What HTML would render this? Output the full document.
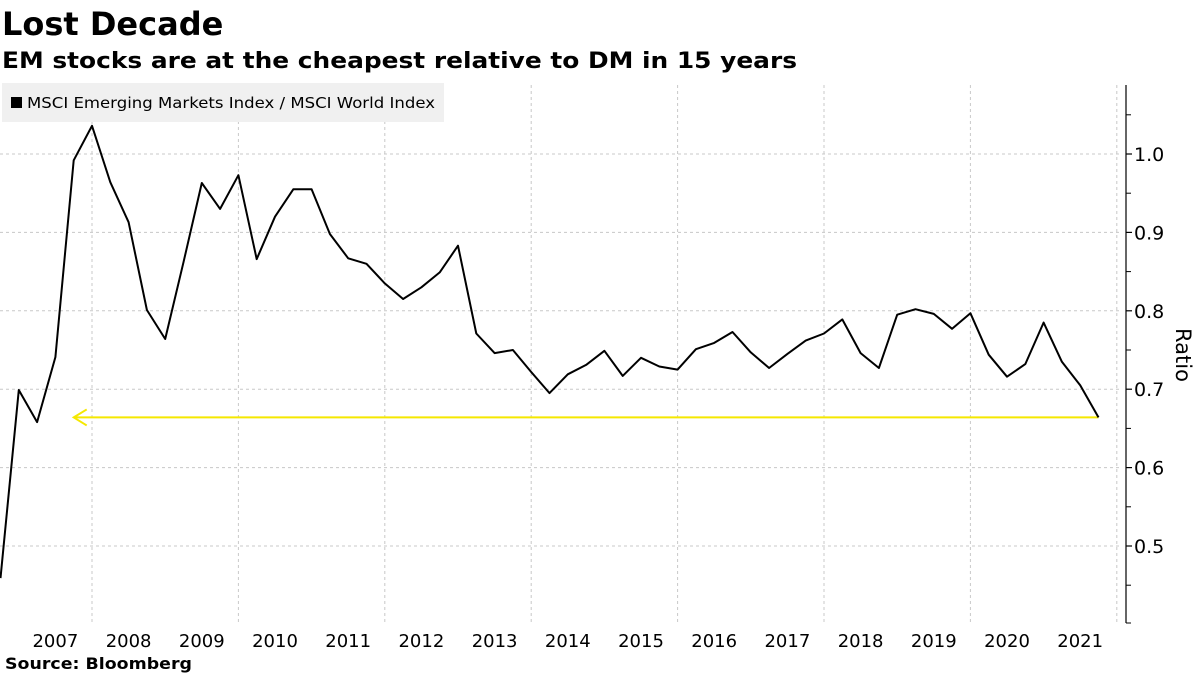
<!DOCTYPE html>
<html><head><meta charset="utf-8"><style>
body{margin:0;background:#fff;}
svg{display:block;font-family:"DejaVu Sans","Liberation Sans",sans-serif;}
</style></head><body>
<svg id="chart" width="1200" height="675" viewBox="0 0 1200 675" xmlns="http://www.w3.org/2000/svg">
<text x="2" y="35" font-size="32" font-weight="bold" fill="#000">Lost Decade</text>
<text x="2" y="68" font-size="22" font-weight="bold" fill="#000" textLength="795" lengthAdjust="spacingAndGlyphs">EM stocks are at the cheapest relative to DM in 15 years</text>
<g id="grid"></g>
<rect x="2" y="83" width="442" height="39" fill="#f0f0f0"/>
<g>
<rect x="11" y="97" width="11" height="11" fill="#000"/>
<text x="27" y="108" font-size="15.5" fill="#000" textLength="408" lengthAdjust="spacingAndGlyphs">MSCI Emerging Markets Index / MSCI World Index</text>
</g>
<g id="axes"></g>
<g id="series"></g>
<text font-size="21" fill="#000" transform="translate(1176,355) rotate(90)" text-anchor="middle">Ratio</text>
<text x="5" y="669" font-size="16" font-weight="bold" fill="#000" textLength="187" lengthAdjust="spacingAndGlyphs">Source: Bloomberg</text>
</svg>
<script>
const yearLabels=["2007","2008","2009","2010","2011","2012","2013","2014","2015","2016","2017","2018","2019","2020","2021"];
const yTickLabels=["0.5","0.6","0.7","0.8","0.9","1.0"];
const yTickValues=[0.5,0.6,0.7,0.8,0.9,1.0];
const ratioValues=[0.459,0.699,0.658,0.741,0.992,1.036,0.964,0.913,0.801,0.764,0.862,0.963,0.930,0.973,0.866,0.920,0.955,0.955,0.898,0.867,0.860,0.835,0.815,0.830,0.849,0.883,0.771,0.746,0.750,0.722,0.695,0.719,0.731,0.749,0.717,0.740,0.729,0.725,0.751,0.759,0.773,0.747,0.727,0.745,0.762,0.771,0.789,0.746,0.727,0.795,0.802,0.796,0.777,0.797,0.744,0.716,0.732,0.785,0.735,0.705,0.664];
const startTime=2006.75;
const currentLevel=[0.664];
const NS="http://www.w3.org/2000/svg";
function x(t){return 92+(t-2008)*73.2;}
function y(v){return 154+(1.0-v)*784;}
function mk(tag,attrs,parent){const e=document.createElementNS(NS,tag);for(const k in attrs)e.setAttribute(k,attrs[k]);parent.appendChild(e);return e;}
const grid=document.getElementById('grid'),axes=document.getElementById('axes'),series=document.getElementById('series');
yTickValues.forEach((v,i)=>{
 const l=mk('line',{x1:0,x2:1120,y1:y(v),y2:y(v),stroke:'#c8c8c8','stroke-dasharray':'3,3','stroke-width':1},grid);
 
 
 const tk=mk('line',{x1:1126,x2:1132,y1:y(v),y2:y(v),stroke:'#000','stroke-width':1.2},axes);
 
 
 const t=mk('text',{x:1134,y:y(v)+7,'font-size':19,fill:'#000'},axes);
 t.textContent=yTickLabels[i];
 
 
});
[0.45,0.55,0.65,0.75,0.85,0.95,1.05].forEach(v=>{
 const tk=mk('line',{x1:1126,x2:1131,y1:y(v),y2:y(v),stroke:'#000','stroke-width':1},axes);
 
 
});
yearLabels.forEach((yr,i)=>{
 const t0=+yr;
 if((t0-2008)%2===0){
  const g=mk('line',{x1:x(t0),x2:x(t0),y1:85,y2:623,stroke:'#c8c8c8','stroke-dasharray':'3,3','stroke-width':1},grid);
  
  
 }
 const t=mk('text',{x:x(t0+0.5),y:647,'font-size':18,fill:'#000','text-anchor':'middle'},axes);
 t.textContent=yr;
 
 
});
const g2020=mk('line',{x1:x(2022),x2:x(2022),y1:85,y2:623,stroke:'#c8c8c8','stroke-dasharray':'3,3'},grid);


const ax=mk('line',{x1:1126,x2:1126,y1:85,y2:623,stroke:'#000','stroke-width':1.2},axes);


const bt=mk('line',{x1:1126,x2:1131,y1:623,y2:623,stroke:'#000','stroke-width':1},axes);


const lastT=startTime+(ratioValues.length-1)*0.25;
const arrowY=y(currentLevel[0]);
const ax0=x(startTime+1.0);
const al=mk('line',{x1:ax0,x2:x(lastT),y1:arrowY,y2:arrowY,stroke:'#f5e800','stroke-width':2},series);


const ah=mk('polyline',{points:`${ax0+13},${arrowY-8} ${ax0},${arrowY} ${ax0+13},${arrowY+8}`,fill:'none',stroke:'#f5e800','stroke-width':2},series);


const pts=ratioValues.map((v,i)=>x(startTime+i*0.25).toFixed(1)+','+y(v).toFixed(1)).join(' ');
const pl=mk('polyline',{points:pts,fill:'none',stroke:'#000','stroke-width':2,'stroke-linejoin':'round'},series);


</script>
</body></html>
